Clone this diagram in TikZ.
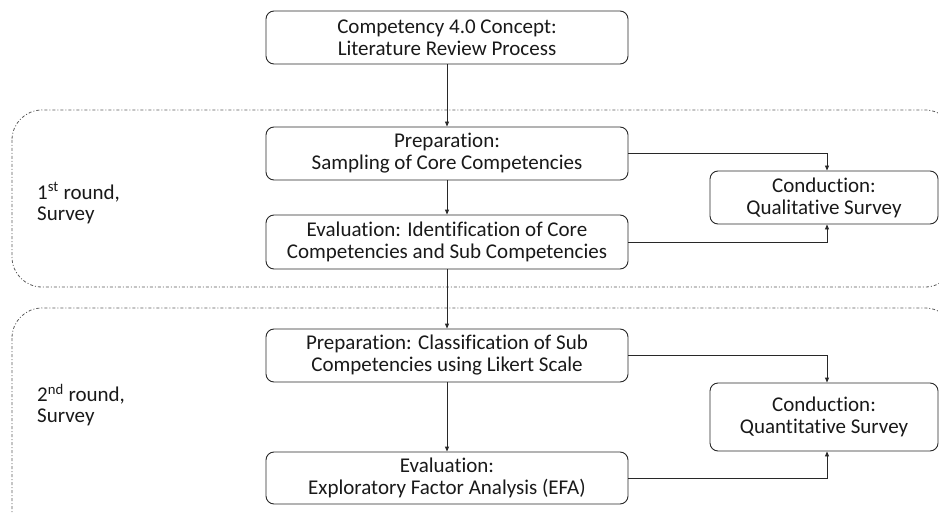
\documentclass[tikz,border=0pt]{standalone}
\usepackage{fontspec}
\setmainfont{Carlito}[Ligatures={NoCommon}]
\usetikzlibrary{arrows.meta,calc}
\definecolor{lineC}{RGB}{40,40,40}
\definecolor{dashC}{RGB}{90,90,90}
\definecolor{txtC}{RGB}{25,25,25}
\tikzset{
  box/.style={draw=lineC, line width=0.9pt, rounded corners=8pt, align=center,
    text=txtC, font=\fontsize{21}{22}\selectfont, inner sep=0pt},
  wide/.style={minimum width=362pt},
  cond/.style={minimum width=228pt},
  conn/.style={draw=lineC, line width=0.9pt, -{Triangle[length=5pt,width=4pt]}},
  region/.style={draw=dashC, line width=0.8pt, dash pattern=on 3pt off 2pt on 1pt off 2pt, rounded corners=30pt},
  lbl/.style={align=left, text=txtC, font=\fontsize{21}{21}\selectfont, inner sep=0pt, anchor=north west}
}
\begin{document}
\begin{tikzpicture}[x=1pt,y=-1pt]
\useasboundingbox (0,0) rectangle (939,513);
\clip (0,0) rectangle (939,513);
\draw[region] (12,110) rectangle (955,287);
\draw[region] (12,308) rectangle (955,545);

\node[box,wide,minimum height=53pt] (top) at (447,37.5) {Competency 4.0 Concept:\\Literature Review Process};
\node[box,wide,minimum height=53pt] (p1) at (447,153.5) {Preparation:\\Sampling of Core Competencies};
\node[box,wide,minimum height=54pt] (e1) at (447,242) {Evaluation: Identification of Core\\Competencies and Sub Competencies};
\node[box,cond,minimum height=53pt] (c1) at (824,197.5) {Conduction:\\Qualitative Survey};
\node[box,wide,minimum height=53pt] (p2) at (447,355.5) {Preparation: Classification of Sub\\Competencies using Likert Scale};
\node[box,wide,minimum height=52pt] (e2) at (447,478) {Evaluation:\\Exploratory Factor Analysis (EFA)};
\node[box,cond,minimum height=68pt] (c2) at (824,417) {Conduction:\\Quantitative Survey};

\node[lbl] (l1) at (37,182) {1\textsuperscript{st} round,\\Survey};
\node[lbl] (l2) at (37,384) {2\textsuperscript{nd} round,\\Survey};

\draw[conn] (top) -- (p1);
\draw[conn] (p1) -- (e1);
\draw[conn] (e1) -- (p2);
\draw[conn] (p2) -- (e2);
\draw[conn] (p1.east) -| ([xshift=3pt]c1.north);
\draw[conn] (e1.east) -| ([xshift=3pt]c1.south);
\draw[conn] (p2.east) -| ([xshift=3pt]c2.north);
\draw[conn] (e2.east) -| ([xshift=3pt]c2.south);
\end{tikzpicture}
\end{document}
